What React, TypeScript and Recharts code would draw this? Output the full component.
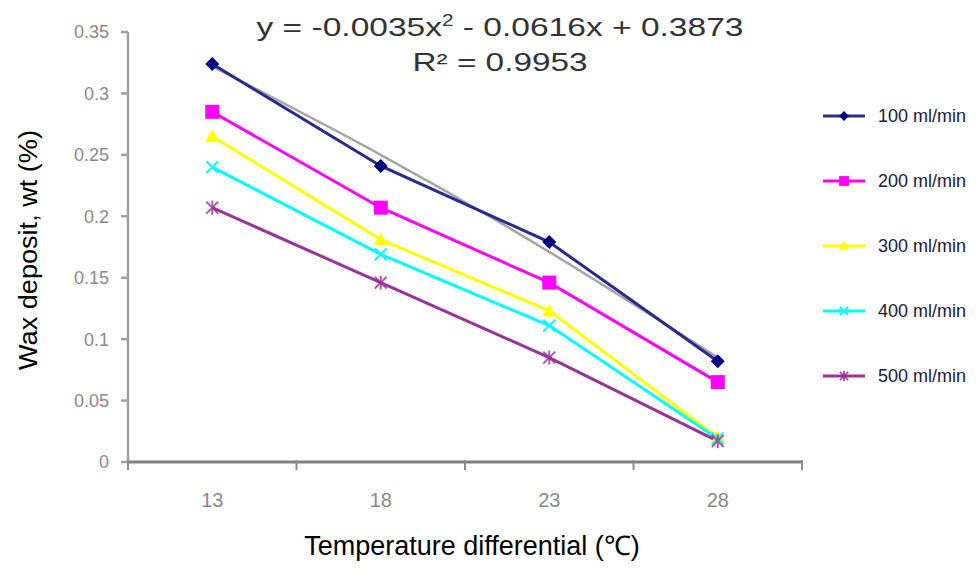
import React from "react"
import { LineChart, Line, XAxis, YAxis, Legend } from "recharts"

const temps = [13, 18, 23, 28]
const flow100 = [0.324, 0.241, 0.179, 0.082]
const flow200 = [0.285, 0.207, 0.146, 0.065]
const flow300 = [0.265, 0.181, 0.123, 0.02]
const flow400 = [0.24, 0.169, 0.111, 0.019]
const flow500 = [0.207, 0.146, 0.085, 0.017]
// polynomial trendline fitted to the 100 ml/min series
const trend100 = [0.322, 0.25, 0.171, 0.085]

const yTicks = [0, 0.05, 0.1, 0.15, 0.2, 0.25, 0.3, 0.35]
const xTicks = [10.5, 13, 15.5, 18, 20.5, 23, 25.5, 28, 30.5]

const FONT = '"Liberation Sans", Arial, Helvetica, sans-serif'

type Shape = "diamond" | "square" | "triangle" | "cross" | "star"

const series: { key: string; name: string; line: string; fill: string; shape: Shape }[] = [
  { key: "f100", name: "100 ml/min", line: "#2a2a8c", fill: "#000080", shape: "diamond" },
  { key: "f200", name: "200 ml/min", line: "#ff00ff", fill: "#ff00ff", shape: "square" },
  { key: "f300", name: "300 ml/min", line: "#ffff00", fill: "#ffff00", shape: "triangle" },
  { key: "f400", name: "400 ml/min", line: "#00ffff", fill: "#00ffff", shape: "cross" },
  { key: "f500", name: "500 ml/min", line: "#993399", fill: "#993399", shape: "star" },
]

const data = temps.map((t, i) => ({
  t,
  f100: flow100[i],
  f200: flow200[i],
  f300: flow300[i],
  f400: flow400[i],
  f500: flow500[i],
  trend: trend100[i],
}))

function Marker({ cx, cy, shape, color, s = 1 }: { cx: number; cy: number; shape: Shape; color: string; s?: number }) {
  if (cx == null || cy == null) return null
  const r = 7 * s
  switch (shape) {
    case "diamond":
      return <polygon points={`${cx},${cy - r} ${cx + r},${cy} ${cx},${cy + r} ${cx - r},${cy}`} fill={color} />
    case "square":
      return <rect x={cx - r} y={cy - r} width={2 * r} height={2 * r} fill={color} />
    case "triangle":
      return <polygon points={`${cx},${cy - r} ${cx + r},${cy + r * 0.8} ${cx - r},${cy + r * 0.8}`} fill={color} />
    case "cross":
      return (
        <g stroke={color} strokeWidth={2}>
          <line x1={cx - r * 0.85} y1={cy - r * 0.85} x2={cx + r * 0.85} y2={cy + r * 0.85} />
          <line x1={cx - r * 0.85} y1={cy + r * 0.85} x2={cx + r * 0.85} y2={cy - r * 0.85} />
        </g>
      )
    case "star":
      return (
        <g stroke={color} strokeWidth={2} opacity={0.8}>
          <line x1={cx - r * 0.85} y1={cy - r * 0.85} x2={cx + r * 0.85} y2={cy + r * 0.85} />
          <line x1={cx - r * 0.85} y1={cy + r * 0.85} x2={cx + r * 0.85} y2={cy - r * 0.85} />
          <line x1={cx} y1={cy - r} x2={cx} y2={cy + r} />
        </g>
      )
  }
}

function XTick({ x, y, payload }: { x: number; y: number; payload: { value: number } }) {
  const v = payload.value
  if (v % 1 !== 0) {
    return <line x1={x} y1={y - 2} x2={x} y2={y + 8} stroke="#8c8c8c" strokeWidth={2} />
  }
  return (
    <text x={x} y={y + 31} dy="0.71em" textAnchor="middle" fontSize={20} fill="#8a8a8a" fontFamily={FONT}>
      {v}
    </text>
  )
}

function LegendBox() {
  return (
    <svg width={154} height={325} style={{ display: "block" }}>
      {series.map((s, i) => {
        const cy = 32 + i * 65
        return (
          <g key={s.key}>
            <line x1={3} y1={cy} x2={45} y2={cy} stroke={s.line} strokeWidth={3} />
            <Marker cx={24} cy={cy} shape={s.shape} color={s.fill} s={0.7} />
            <text x={58} y={cy} dy="0.36em" fontSize={18} fill="#1a1a40" fontFamily={FONT}>
              {s.name}
            </text>
          </g>
        )
      })}
    </svg>
  )
}

export default function App() {
  return (
    <div style={{ position: "absolute", left: 0, top: 0, width: 976, height: 579, background: "#fff" }}>
      <LineChart width={976} height={579} data={data} margin={{ top: 32, right: 174, bottom: 57, left: 68 }}>
        <XAxis
          dataKey="t"
          type="number"
          domain={[10.5, 30.5]}
          ticks={xTicks}
          interval={0}
          tickSize={0}
          tickMargin={0}
          tickLine={false}
          height={60}
          stroke="#808080"
          strokeWidth={3}
          tick={(p: any) => <XTick {...p} />}
        />
        <YAxis
          domain={[0, 0.35]}
          ticks={yTicks}
          interval={0}
          width={60}
          tickSize={7}
          tickMargin={12}
          stroke="#a0a0a0"
          strokeWidth={2.5}
          tick={{ fontSize: 18, fill: "#8a8a8a", fontFamily: FONT }}
          tickFormatter={(v: number) => String(v)}
        />
        <Legend
          layout="vertical"
          align="center"
          verticalAlign="middle"
          wrapperStyle={{ left: 820, top: 84, width: 154 }}
          content={() => <LegendBox />}
        />
        <Line
          dataKey="trend"
          type="natural"
          stroke="#a6a6a6"
          strokeWidth={2.5}
          dot={false}
          legendType="none"
          isAnimationActive={false}
        />
        {series.map(s => (
          <Line
            key={s.key}
            dataKey={s.key}
            name={s.name}
            type="linear"
            stroke={s.line}
            strokeWidth={3}
            isAnimationActive={false}
            dot={(p: any) => <Marker key={`${s.key}-${p.index}`} cx={p.cx} cy={p.cy} shape={s.shape} color={s.fill} />}
            activeDot={false}
          />
        ))}
        <text x={500} y={36} textAnchor="middle" fontSize={26} fill="#333" fontFamily={FONT} textLength={487} lengthAdjust="spacingAndGlyphs">
          y = -0.0035x<tspan dy={-10} fontSize={16}>2</tspan><tspan dy={10}> - 0.0616x + 0.3873</tspan>
        </text>
        <text x={500} y={71} textAnchor="middle" fontSize={26} fill="#333" fontFamily={FONT} textLength={175} lengthAdjust="spacingAndGlyphs">
          R² = 0.9953
        </text>
        <text
          x={28}
          y={250}
          transform="rotate(-90 28 250)"
          dy="0.35em"
          textAnchor="middle"
          fontSize={25}
          fill="#000"
          fontFamily={FONT}
          textLength={240}
          lengthAdjust="spacingAndGlyphs"
        >
          Wax deposit, wt (%)
        </text>
        <text x={472} y={555} textAnchor="middle" fontSize={27} fill="#000" fontFamily={FONT}>
          Temperature differential (℃)
        </text>
      </LineChart>
    </div>
  )
}
